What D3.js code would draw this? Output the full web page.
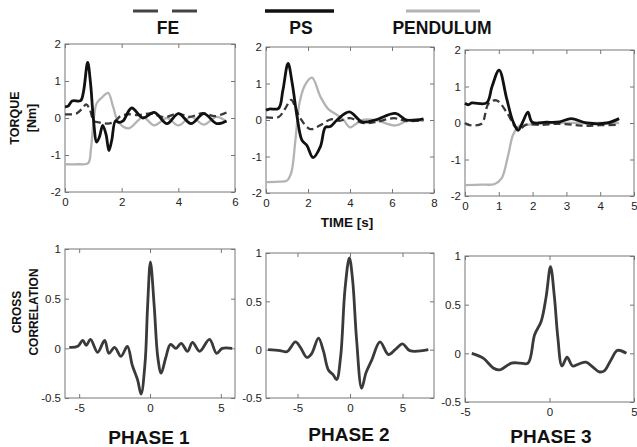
<!DOCTYPE html>
<meta charset="utf-8">
<style>
body { margin: 0; background: #fff; font-family: Arial, "Liberation Sans", sans-serif; }
.axis text { font-size: 11.5px; fill: #222; font-family: Arial, "Liberation Sans", sans-serif; }
.axis line { stroke: #777; }
.axis path { display: none; }
.box { fill: none; stroke: #777; stroke-width: 1; }
.lbl { font-weight: bold; fill: #111; text-anchor: middle; }
</style>
<body>
<script src="https://cdn.jsdelivr.net/npm/d3@7"></script>
<script>
// ---- data: [time or lag, value] ----
// phase 1 torques
var fe1 = [[0,0.1],[0.4,0.12],[0.6,0.25],[0.75,0.37],[0.88,0.22],[1.02,-0.08],[1.2,-0.12],[1.5,-0.15],[1.75,-0.1],[1.95,0.05],[2.2,0.1],[2.6,0.08],[3.05,0.12],[3.5,0.02],[4.0,0.12],[4.4,0.03],[4.85,0.13],[5.3,0.05],[5.7,0.15]];
var ps1 = [[0,0.3],[0.12,0.33],[0.25,0.46],[0.55,0.47],[0.65,0.7],[0.8,1.5],[0.9,0.95],[1.0,0.0],[1.12,-0.65],[1.22,-0.5],[1.33,-0.2],[1.45,-0.45],[1.55,-0.88],[1.65,-0.6],[1.78,-0.08],[1.9,-0.12],[2.05,-0.08],[2.35,0.27],[2.75,0.0],[3.15,0.15],[3.6,-0.15],[4.0,0.12],[4.45,-0.15],[4.9,0.12],[5.35,-0.15],[5.7,-0.08]];
var pend1 = [[0,-1.25],[0.5,-1.25],[0.82,-1.22],[0.92,-0.8],[1.02,0.0],[1.12,0.4],[1.3,0.55],[1.52,0.68],[1.7,0.3],[1.88,-0.1],[2.25,-0.28],[2.75,0.02],[3.15,-0.2],[3.6,0.0],[4.0,-0.2],[4.45,0.03],[4.9,-0.18],[5.35,0.03],[5.7,-0.1]];
// phase 2 torques
var fe2 = [[0,0.07],[0.6,0.08],[0.9,0.3],[1.2,0.55],[1.4,0.35],[1.64,0.04],[2.11,-0.25],[2.59,-0.14],[3.1,0.02],[3.5,-0.02],[4.0,0.05],[4.6,-0.08],[5.2,-0.06],[6.1,0.05],[6.7,-0.03],[7.5,0.0]];
var ps2 = [[0,0.27],[0.15,0.3],[0.6,0.32],[0.8,0.8],[1.05,1.55],[1.25,1.0],[1.48,0.09],[1.71,-0.55],[1.95,-0.7],[2.24,-1.03],[2.59,-0.73],[2.83,-0.2],[3.06,-0.18],[3.38,0.0],[3.97,0.22],[4.57,-0.05],[5.2,0.0],[6.16,0.18],[6.7,0.0],[7.5,0.03]];
var pend2 = [[0,-1.7],[0.6,-1.69],[1.0,-1.66],[1.2,-1.45],[1.4,-0.55],[1.59,0.45],[1.85,0.95],[2.19,1.16],[2.59,0.64],[2.98,0.29],[3.38,0.14],[3.7,0.0],[4.0,-0.2],[4.57,0.0],[5.2,0.0],[6.16,-0.15],[6.8,0.0],[7.5,-0.03]];
// phase 3 torques
var fe3 = [[0,0.0],[0.1,-0.05],[0.49,-0.02],[0.69,0.52],[0.93,0.62],[1.23,0.3],[1.47,-0.08],[1.62,-0.17],[1.8,-0.05],[2.3,-0.05],[2.7,-0.02],[3.2,-0.05],[3.6,-0.08],[4.0,-0.06],[4.56,-0.05]];
var ps3 = [[0,0.54],[0.1,0.5],[0.2,0.55],[0.64,0.55],[0.8,1.0],[1.01,1.45],[1.23,0.68],[1.42,0.04],[1.57,-0.2],[1.71,0.03],[1.86,0.3],[1.99,0.02],[2.4,0.02],[2.8,0.03],[3.14,0.12],[3.6,0.0],[4.2,0.0],[4.56,0.12]];
var pend3 = [[0,-1.7],[0.5,-1.69],[0.88,-1.67],[1.08,-1.52],[1.28,-0.87],[1.42,-0.33],[1.6,-0.08],[1.81,-0.05],[2.5,0.0],[3.5,0.0],[4.56,0.0]];
// cross correlations
var xc1 = [[-5.7,0.01],[-5.1,0.02],[-4.75,0.08],[-4.5,0.03],[-4.2,0.09],[-3.7,-0.04],[-3.2,0.08],[-2.9,-0.05],[-2.5,0.01],[-2.05,-0.08],[-1.6,0.02],[-1.25,-0.17],[-0.87,-0.32],[-0.63,-0.46],[-0.35,-0.15],[-0.17,0.42],[0.03,0.87],[0.3,0.42],[0.55,-0.09],[0.79,-0.25],[1.1,-0.1],[1.45,0.04],[1.83,0.0],[2.2,0.05],[2.65,-0.03],[3.0,0.06],[3.5,-0.03],[4.2,0.09],[4.7,-0.05],[5.1,0.0],[5.8,0.0]];
var xc2 = [[-7.8,0.0],[-6.67,-0.01],[-6.0,-0.02],[-5.2,0.08],[-4.76,0.03],[-4.1,-0.08],[-3.65,-0.04],[-3.0,0.12],[-2.54,-0.01],[-2.06,-0.21],[-1.6,-0.26],[-1.27,-0.31],[-0.89,-0.07],[-0.48,0.62],[-0.06,0.95],[0.25,0.72],[0.63,0.1],[1.11,-0.4],[1.52,-0.24],[2.06,-0.11],[2.86,0.08],[3.65,-0.05],[4.3,0.0],[5.0,0.06],[5.7,-0.01],[7.46,0.0]];
var xc3 = [[-4.6,0.0],[-3.92,-0.05],[-3.33,-0.15],[-2.94,-0.17],[-2.25,-0.1],[-1.76,-0.1],[-1.27,-0.1],[-0.88,0.19],[-0.49,0.33],[-0.2,0.58],[0.06,0.89],[0.29,0.58],[0.49,0.17],[0.74,-0.13],[1.04,-0.04],[1.37,-0.13],[1.72,-0.11],[2.16,-0.09],[2.55,-0.14],[2.94,-0.19],[3.24,-0.18],[3.63,-0.07],[4.02,0.03],[4.55,0.0]];

var torqueTicks = [-2, -1, 0, 1, 2];
var xcTicks = [-0.5, 0, 0.5, 1];
var phaseNames = ["PHASE 1", "PHASE 2", "PHASE 3"];
var legendNames = ["FE", "PS", "PENDULUM"];

var W = 637, H = 447;
var svg = d3.select("body").append("svg").attr("width", W).attr("height", H);

var styles = {
  fe:   {stroke: "#3a3a3a", width: 2.3, dash: "7,4"},
  ps:   {stroke: "#111",    width: 2.8, dash: null},
  pend: {stroke: "#b3b3b3", width: 2.3, dash: null},
  xc:   {stroke: "#3a3a3a", width: 2.8, dash: null}
};

function panel(box, xdom, xticks, ydom, yticks, series) {
  var x = d3.scaleLinear().domain(xdom).range([box.l, box.r]);
  var y = d3.scaleLinear().domain(ydom).range([box.b, box.t]);
  var g = svg.append("g");
  var fmt = function(d) { return String(d); };

  g.append("g").attr("class", "axis").attr("transform", "translate(0," + box.b + ")")
    .call(d3.axisBottom(x).tickValues(xticks).tickFormat(fmt).tickSize(-4).tickPadding(6));
  g.append("g").attr("class", "axis").attr("transform", "translate(0," + box.t + ")")
    .call(d3.axisTop(x).tickValues(xticks).tickFormat("").tickSize(-4));
  g.append("g").attr("class", "axis").attr("transform", "translate(" + box.l + ",0)")
    .call(d3.axisLeft(y).tickValues(yticks).tickFormat(fmt).tickSize(-4).tickPadding(4));
  g.append("g").attr("class", "axis").attr("transform", "translate(" + box.r + ",0)")
    .call(d3.axisRight(y).tickValues(yticks).tickFormat("").tickSize(-4));

  g.append("rect").attr("class", "box")
    .attr("x", box.l).attr("y", box.t)
    .attr("width", box.r - box.l).attr("height", box.b - box.t);

  var line = d3.line()
    .x(function(d) { return x(d[0]); })
    .y(function(d) { return y(d[1]); })
    .curve(d3.curveCatmullRom.alpha(0.5));

  series.forEach(function(s) {
    var st = styles[s.kind];
    g.append("path").datum(s.data)
      .attr("d", line)
      .attr("fill", "none")
      .attr("stroke", st.stroke)
      .attr("stroke-width", st.width)
      .attr("stroke-dasharray", st.dash)
      .attr("stroke-linejoin", "round");
  });
}

// top row: torques
panel({l: 65, r: 235, t: 44, b: 192}, [0, 6], [0, 2, 4, 6], [-2, 2], torqueTicks,
  [{kind: "pend", data: pend1}, {kind: "fe", data: fe1}, {kind: "ps", data: ps1}]);
panel({l: 266, r: 434, t: 47, b: 193}, [0, 8], [0, 2, 4, 6, 8], [-2, 2], torqueTicks,
  [{kind: "pend", data: pend2}, {kind: "fe", data: fe2}, {kind: "ps", data: ps2}]);
panel({l: 465, r: 634, t: 50, b: 196}, [0, 5], [0, 1, 2, 3, 4, 5], [-2, 2], torqueTicks,
  [{kind: "pend", data: pend3}, {kind: "fe", data: fe3}, {kind: "ps", data: ps3}]);

// bottom row: cross correlation
panel({l: 65, r: 235, t: 249, b: 398}, [-6, 6], [-5, 0, 5], [-0.5, 1], xcTicks,
  [{kind: "xc", data: xc1}]);
panel({l: 266, r: 434, t: 253, b: 398}, [-8, 8], [-5, 0, 5], [-0.5, 1], xcTicks,
  [{kind: "xc", data: xc2}]);
panel({l: 465, r: 634, t: 256, b: 402}, [-5, 5], [-5, 0, 5], [-0.5, 1], xcTicks,
  [{kind: "xc", data: xc3}]);

// legend
var leg = svg.append("g");
leg.append("line").attr("x1", 133).attr("x2", 197).attr("y1", 11).attr("y2", 11)
  .attr("stroke", "#444").attr("stroke-width", 3).attr("stroke-dasharray", "25,14");
leg.append("line").attr("x1", 265).attr("x2", 334).attr("y1", 11).attr("y2", 11)
  .attr("stroke", "#111").attr("stroke-width", 3.5);
leg.append("line").attr("x1", 406).attr("x2", 480).attr("y1", 11).attr("y2", 11)
  .attr("stroke", "#b3b3b3").attr("stroke-width", 3);
[168, 301, 442].forEach(function(cx, i) {
  leg.append("text").attr("class", "lbl").attr("x", cx).attr("y", 34)
    .style("font-size", "17.5px").text(legendNames[i]);
});

// axis titles
var ty = svg.append("text").attr("class", "lbl").attr("transform", "translate(19,118) rotate(-90)")
  .style("font-size", "12.5px");
ty.append("tspan").attr("x", 0).attr("dy", 0).text("TORQUE");
ty.append("tspan").attr("x", 0).attr("dy", 17).text("[Nm]");

var cy = svg.append("text").attr("class", "lbl").attr("transform", "translate(21,312) rotate(-90)")
  .style("font-size", "12px");
cy.append("tspan").attr("x", 0).attr("dy", 0).text("CROSS");
cy.append("tspan").attr("x", 0).attr("dy", 17).text("CORRELATION");

svg.append("text").attr("class", "lbl").attr("x", 347).attr("y", 227)
  .style("font-size", "13.5px").text("TIME [s]");

[149, 349, 551].forEach(function(cx, i) {
  svg.append("text").attr("class", "lbl").attr("x", cx).attr("y", [444, 441, 443][i])
    .style("font-size", "19px").text(phaseNames[i]);
});
</script>
</body>
